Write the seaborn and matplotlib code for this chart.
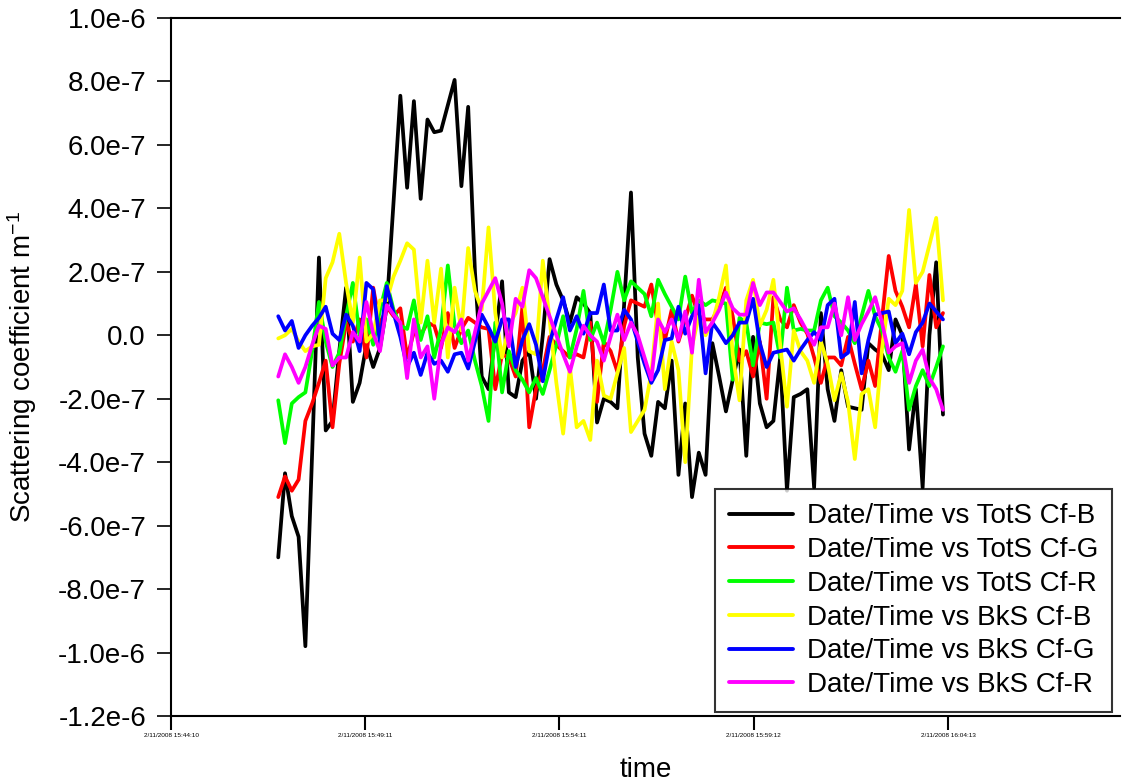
import numpy as np
import pandas as pd
import matplotlib
matplotlib.use('Agg')
import matplotlib.pyplot as plt
import seaborn as sns

# values in units of 1e-7 m^-1, one reading every ~10.5 s
tots_b = [-7.0, -4.35, -5.7, -6.35, -9.8, -3.7, 2.45, -3.0, -2.7, -0.5,
          1.5, -2.1, -1.5, -0.3, -1.0, -0.4, 0.9, 4.2, 7.55, 4.65,
          7.38, 4.3, 6.8, 6.4, 6.45, 7.25, 8.05, 4.7, 7.2, 2.0,
          -1.3, -1.7, 0.0, 1.7, -1.8, -1.95, -0.8, -0.5, -2.0, 0.0,
          2.4, 1.6, 1.1, 0.4, 1.2, 1.0, 0.7, -2.75, -2.0, -2.1,
          -2.3, 1.0, 4.5, -0.7, -3.1, -3.8, -2.1, -2.3, -0.8, -4.4,
          -2.15, -5.1, -3.7, -4.4, -0.25, -1.3, -2.4, -1.4, -0.45, -3.8,
          -0.05, -2.15, -2.9, -2.7, -0.7, -4.9, -1.95, -1.85, -1.7, -4.8,
          0.7, -1.7, -2.7, -1.1, -2.25, -2.3, -2.35, -0.25, -0.45, -0.6,
          -1.1, 0.5, 0.0, -3.6, -1.7, -4.8, 0.0, 2.3, -2.5]
tots_g = [-5.1, -4.45, -4.9, -4.55, -2.7, -2.15, -1.5, -0.8, -2.9, -0.9,
          0.4, -0.2, 0.5, -0.7, 1.5, 0.3, 0.9, 0.6, 0.85, -0.7,
          0.1, 0.0, 0.4, 0.3, -0.4, 0.7, -0.4, 0.2, 0.55, 0.4,
          0.25, 0.2, -1.7, -0.6, -0.7, -1.3, 0.9, -2.9, -1.7, -1.1,
          -0.05, -0.3, -0.5, -0.7, -0.6, -0.7, 0.4, -2.1, -0.2, -0.5,
          -1.15, 0.3, 1.1, 1.0, 0.9, 1.6, 0.3, -0.15, 0.8, -0.2,
          0.5, 1.25, 0.6, 0.5, 0.5, 0.9, 1.5, 0.6, -0.8, -0.5,
          -1.3, -0.2, -2.0, 1.2, 0.5, 0.25, 0.95, 0.4, 0.05, -0.7,
          -1.5, -0.7, -0.7, -0.95, -0.05, -0.9, -1.7, -0.8, -1.6, 0.5,
          2.5, 1.4, 0.9, 0.25, 1.6, -0.35, 1.9, 0.25, 0.7]
tots_r = [-2.05, -3.4, -2.15, -1.95, -1.8, -0.5, 1.05, -0.2, -1.0, -0.55,
          0.6, 1.65, 0.0, 0.5, -0.3, 0.8, 1.65, 0.8, 0.3, 0.2,
          1.1, -0.15, 0.6, -0.7, 0.2, 2.2, 0.3, -0.25, 0.15, -0.8,
          -1.6, -2.7, 0.4, -1.8, -0.5, -1.1, -1.4, -1.8, -1.35, -1.85,
          -1.1, -0.3, 0.6, -0.7, 0.2, 1.4, -0.15, 0.4, -0.25, 0.8,
          2.0, 1.1, 1.7, 1.5, 1.3, 0.6, 1.75, 1.3, 0.9, 0.5,
          1.85, 0.7, 1.1, 0.95, 1.1, 1.05, 1.0, -1.4, 0.55, 0.4,
          -0.95, 0.4, 0.35, 0.4, -0.7, 1.5, 0.15, 0.2, 0.15, 0.15,
          1.1, 1.5, 0.6, 0.4, 0.15, -0.25, 0.6, 1.4, 0.6, 0.15,
          -0.7, -1.15, -0.5, -2.35, -1.6, -1.1, -1.6, -1.0, -0.35]
bks_b = [-0.1, 0.0, 0.2, -0.2, -0.5, -0.35, -0.3, 1.8, 2.3, 3.2,
         1.65, 0.4, 2.45, -0.2, 0.05, 1.1, 1.1, 1.85, 2.35, 2.9,
         2.7, 0.4, 2.35, 0.4, 2.1, -0.7, 1.5, 0.15, 2.75, 1.4,
         0.8, 3.4, 0.7, -0.7, 0.3, 0.7, 1.5, -0.5, -0.6, 2.35,
         0.5, -1.5, -3.1, -1.0, -2.9, -2.7, -3.3, -0.8, -1.9, -2.0,
         -1.2, -0.4, -3.05, -2.7, -2.35, -1.2, 1.0, -1.7, -0.2, -1.1,
         -4.0, -0.35, 0.6, 0.0, 0.4, 1.2, 2.2, -0.6, -2.05, 1.1,
         1.75, 0.3, 0.8, 1.75, -0.3, -2.25, 0.15, -0.5, -0.8, -1.5,
         -0.2, -0.9, -2.05, -1.2, -2.1, -3.9, -1.85, -1.7, -2.9, -0.45,
         1.15, 0.95, 1.4, 3.95, 1.65, 2.0, 2.85, 3.7, 1.1]
bks_g = [0.6, 0.15, 0.45, -0.4, 0.0, 0.3, 0.55, 0.9, 0.05, -0.15,
         0.65, 0.3, -0.5, 1.65, 1.45, -0.25, 1.55, 0.7, -0.05, -1.0,
         -0.55, -1.25, -0.55, -0.9, -0.8, -1.15, -0.6, -0.55, -1.05, -0.2,
         0.65, 0.25, -0.2, 0.5, 0.5, -1.0, -0.15, 0.35, -0.3, -1.45,
         -0.25, 0.5, 1.2, 0.15, 0.6, 0.05, 0.7, 0.7, 1.6, 0.15,
         0.15, 0.8, 0.5, -0.2, -0.9, -1.5, -1.1, -0.15, -0.1, 0.9,
         0.05, 0.6, 0.95, -1.2, 0.4, 0.1, -0.25, 0.0, 0.4, 0.4,
         1.15, -0.25, -1.0, -0.55, -0.5, -0.45, -0.8, -0.45, -0.15, 0.1,
         -0.15, 0.95, 1.15, -0.7, -0.55, 1.05, -1.2, -0.15, 0.65, 0.7,
         0.75, -0.25, 0.05, -0.6, 0.1, 0.4, 1.0, 0.75, 0.5]
bks_r = [-1.3, -0.6, -1.0, -1.5, -1.0, -0.3, 0.3, 0.2, -0.95, -0.7,
         -0.7, 0.1, -0.2, 1.05, 0.05, -0.5, 0.95, 0.65, 0.4, -1.35,
         0.5, -0.7, -0.35, -2.0, -0.3, 0.25, 0.1, 0.5, -0.8, 0.1,
         1.0, 1.4, 1.8, 1.0, -0.35, 1.15, 0.9, 2.05, 1.8, 1.2,
         0.6, 0.0, -0.6, -1.15, -0.35, 0.3, 0.0, -0.2, -0.8, -0.05,
         0.65, -0.15, 0.4, 0.0, -0.7, -1.4, 0.5, 0.1, 0.5, -0.15,
         0.75, -0.55, 1.75, 0.1, 0.4, 0.8, 1.35, 0.85, 0.65, 0.65,
         1.65, 0.95, 1.35, 1.35, 1.05, 0.75, 0.85, 0.5, 0.1, -0.3,
         0.25, 0.25, 1.0, 0.0, 1.2, -0.15, 0.35, 0.75, 1.2, 0.4,
         -0.55, -0.35, -0.25, -1.5, -0.8, -0.45, -1.35, -1.7, -2.35]

series_names = ['Date/Time vs TotS Cf-B', 'Date/Time vs TotS Cf-G', 'Date/Time vs TotS Cf-R',
                'Date/Time vs BkS Cf-B', 'Date/Time vs BkS Cf-G', 'Date/Time vs BkS Cf-R']
series_colors = ['#000000', '#ff0000', '#00ff00', '#ffff00', '#0000ff', '#ff00ff']

tick_times = ['2008-02-11 15:44:10', '2008-02-11 15:49:11', '2008-02-11 15:54:11',
              '2008-02-11 15:59:12', '2008-02-11 16:04:13']
tick_labels = ['2/11/2008 15:44:10', '2/11/2008 15:49:11', '2/11/2008 15:54:11',
               '2/11/2008 15:59:12', '2/11/2008 16:04:13']
y_ticks = [-1.2e-6, -1.0e-6, -8e-7, -6e-7, -4e-7, -2e-7, 0.0, 2e-7, 4e-7, 6e-7, 8e-7, 1.0e-6]
y_labels = ['-1.2e-6', '-1.0e-6', '-8.0e-7', '-6.0e-7', '-4.0e-7', '-2.0e-7', '0.0',
            '2.0e-7', '4.0e-7', '6.0e-7', '8.0e-7', '1.0e-6']

times = pd.date_range('2008-02-11 15:46:56', periods=len(tots_b), freq='10500ms')
frames = []
for name, vals in zip(series_names, [tots_b, tots_g, tots_r, bks_b, bks_g, bks_r]):
    frames.append(pd.DataFrame({'time': times, 'value': np.array(vals) * 1e-7, 'series': name}))
df = pd.concat(frames, ignore_index=True)

sns.set_style('ticks')
plt.rcParams['font.family'] = ['Liberation Sans', 'DejaVu Sans']
plt.rcParams['mathtext.fontset'] = 'custom'
plt.rcParams['mathtext.rm'] = 'Liberation Sans'
plt.rcParams['mathtext.default'] = 'regular'
plt.rcParams['text.color'] = 'black'
plt.rcParams['axes.labelcolor'] = 'black'
plt.rcParams['xtick.color'] = 'black'
plt.rcParams['ytick.color'] = 'black'

fig = plt.figure(figsize=(11.34, 7.82), dpi=100)
ax = fig.add_axes([171 / 1134, 1 - 716 / 782, 949 / 1134, 698 / 782])

sns.lineplot(data=df, x='time', y='value', hue='series', hue_order=series_names,
             palette=dict(zip(series_names, series_colors)), linewidth=2.7, ax=ax)

ax.set_xlim(pd.Timestamp('2008-02-11 15:44:10'), pd.Timestamp('2008-02-11 16:08:39'))
ax.set_ylim(-1.2e-6, 1.0e-6)
ax.set_xticks(pd.to_datetime(tick_times))
ax.set_xticklabels(tick_labels, fontsize=4.6)
ax.set_yticks(y_ticks)
ax.set_yticklabels(y_labels, fontsize=20)
ax.tick_params(axis='y', length=10, width=1.2, pad=8)
ax.tick_params(axis='x', length=10, width=1.5, pad=2)

for side in ['left', 'top', 'bottom']:
    ax.spines[side].set_color('black')
    ax.spines[side].set_linewidth(1.5)
ax.spines['right'].set_visible(False)

ax.set_xlabel('time', fontsize=20, labelpad=14)
ax.set_ylabel('Scattering coefficient m$^{-1}$', fontsize=20, labelpad=14)

leg = ax.legend(loc='lower right', bbox_to_anchor=(0.9916, 0.0057), borderaxespad=0,
                fontsize=20, frameon=True, fancybox=False, labelspacing=0.28,
                handlelength=2.3, handletextpad=0.5, borderpad=0.5)
leg.get_frame().set_edgecolor('black')
leg.get_frame().set_linewidth(1.5)
for line in leg.get_lines():
    line.set_linewidth(2.8)

fig.savefig('out.png', dpi=100)
